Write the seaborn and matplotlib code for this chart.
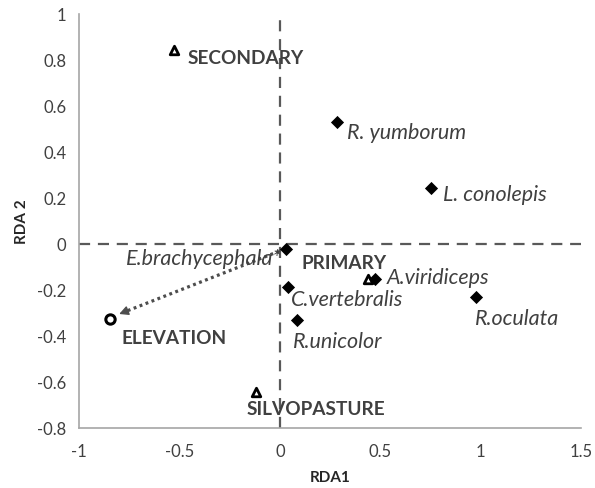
import matplotlib
matplotlib.use("Agg")
import matplotlib.pyplot as plt
import seaborn as sns
import pandas as pd

# ---- data ----
species = ["R. yumborum", "L. conolepis", "E.brachycephala*", "A.viridiceps",
           "C.vertebralis", "R.oculata", "R.unicolor"]
sp_x = [0.286, 0.753, 0.029, 0.474, 0.039, 0.977, 0.084]
sp_y = [0.533, 0.243, -0.019, -0.151, -0.184, -0.228, -0.329]

habitats = ["SECONDARY", "PRIMARY", "SILVOPASTURE"]
hab_x = [-0.527, 0.44, -0.12]
hab_y = [0.845, -0.151, -0.641]

env = ["ELEVATION"]
env_x = [-0.845]
env_y = [-0.326]

arrow_start = (0.026, -0.02)
arrow_end = (-0.80, -0.303)

x_ticks = [-1, -0.5, 0, 0.5, 1, 1.5]
y_ticks = [-0.8, -0.6, -0.4, -0.2, 0, 0.2, 0.4, 0.6, 0.8, 1]

sp_df = pd.DataFrame({"name": species, "x": sp_x, "y": sp_y})
hab_df = pd.DataFrame({"name": habitats, "x": hab_x, "y": hab_y})
env_df = pd.DataFrame({"name": env, "x": env_x, "y": env_y})

# ---- style ----
sns.set_style("white")
plt.rcParams["font.family"] = ["Lato", "DejaVu Sans"]

fig = plt.figure(figsize=(5.95, 4.88), dpi=100)
ax = fig.add_axes([0.1328, 0.1223, 0.8437, 0.8484])

txt = "#404040"
axis_grey = "#a6a6a6"

# reference dashed lines
ax.axhline(0, color="#595959", lw=1.6, ls=(0, (5, 3.5)), zorder=1)
ax.axvline(0, color="#595959", lw=1.6, ls=(0, (5, 3.5)), zorder=1)

# dotted arrow shaft + solid head
head_frac = 0.05
near_end = (arrow_end[0] + head_frac * (arrow_start[0] - arrow_end[0]),
            arrow_end[1] + head_frac * (arrow_start[1] - arrow_end[1]))
ax.plot([arrow_start[0], near_end[0]], [arrow_start[1], near_end[1]],
        color="#4d4d4d", lw=2.3, ls=(0, (0.9, 1.1)), zorder=2)
ax.annotate("", xy=arrow_end, xytext=near_end,
            arrowprops=dict(arrowstyle="-|>,head_length=0.55,head_width=0.28",
                            color="#4d4d4d", lw=1.0, shrinkA=0, shrinkB=0),
            zorder=2)

sns.scatterplot(data=sp_df, x="x", y="y", marker="D", s=45, color="black",
                edgecolor="black", linewidth=0, ax=ax, zorder=4)
sns.scatterplot(data=hab_df, x="x", y="y", marker="^", s=38, facecolor="white",
                edgecolor="black", linewidth=2.0, ax=ax, zorder=3)
sns.scatterplot(data=env_df, x="x", y="y", marker="o", s=45, facecolor="white",
                edgecolor="black", linewidth=2.2, ax=ax, zorder=3)

# labels (offsets in pixels)
sp_off = {"R. yumborum": (10, -11, "left"),
          "L. conolepis": (12, -7, "left"),
          "E.brachycephala*": (-4, -10, "right"),
          "A.viridiceps": (12, 1, "left"),
          "C.vertebralis": (3, -13, "left"),
          "R.oculata": (-1, -22, "left"),
          "R.unicolor": (-4, -22, "left")}
for n, x, y in zip(species, sp_x, sp_y):
    dx, dy, ha = sp_off[n]
    ax.annotate(n, (x, y), xytext=(dx, dy), textcoords="offset pixels",
                ha=ha, va="center", fontsize=15.5, style="italic", color=txt,
                zorder=5)

hab_off = {"SECONDARY": (14, -9, "left"),
           "PRIMARY": (18, 16, "right"),
           "SILVOPASTURE": (-9, -18, "left")}
for n, x, y in zip(habitats, hab_x, hab_y):
    dx, dy, ha = hab_off[n]
    ax.annotate(n, (x, y), xytext=(dx, dy), textcoords="offset pixels",
                ha=ha, va="center", fontsize=13.7, fontweight="bold", color=txt,
                zorder=5)
for n, x, y in zip(env, env_x, env_y):
    ax.annotate(n, (x, y), xytext=(11, -19), textcoords="offset pixels",
                ha="left", va="center", fontsize=13.7, fontweight="bold", color=txt,
                zorder=5)

ax.set_xlim(-1, 1.5)
ax.set_ylim(-0.8, 1)
ax.set_xticks(x_ticks)
ax.set_xticklabels([f"{v:g}" for v in x_ticks])
ax.set_yticks(y_ticks)
ax.set_yticklabels([f"{v:g}" for v in y_ticks])
ax.tick_params(axis="both", direction="out", length=5, width=1, color=axis_grey,
               labelsize=12, labelcolor="#404040", pad=4)
ax.tick_params(axis="x", pad=6)
for s in ["top", "right"]:
    ax.spines[s].set_visible(False)
for s in ["left", "bottom"]:
    ax.spines[s].set_color(axis_grey)
    ax.spines[s].set_linewidth(1.2)

ax.set_xlabel("RDA1", fontsize=11, fontweight="bold", color="#262626", labelpad=8)
ax.set_ylabel("RDA 2", fontsize=11, fontweight="bold", color="#262626", labelpad=6)

fig.savefig("out.png", dpi=100)
